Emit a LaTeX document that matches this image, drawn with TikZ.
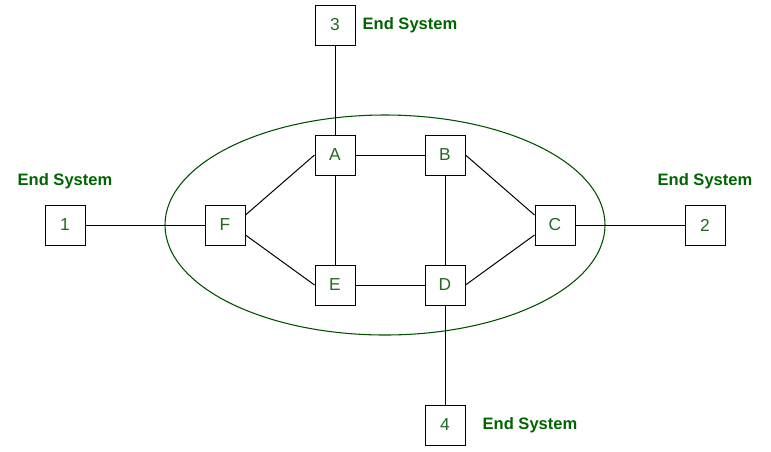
\documentclass[tikz,border=0pt]{standalone}
\usepackage{fontspec}
\setmainfont{Liberation Sans}
\definecolor{lblgreen}{RGB}{0,100,0}
\definecolor{nodegreen}{RGB}{35,105,35}
\definecolor{ellgreen}{RGB}{0,80,0}
\begin{document}
\begin{tikzpicture}[x=0.75pt,y=-0.75pt,
  box/.style={draw=black,line width=0.75pt,minimum width=30pt,minimum height=30pt,inner sep=0pt,
    text=nodegreen,font=\fontsize{13}{15}\selectfont},
  lbl/.style={text=lblgreen,font=\fontsize{12.4}{14}\selectfont\bfseries,inner sep=0pt},
  link/.style={draw=black,line width=0.75pt}]
\useasboundingbox (0,0) rectangle (771,451);
\fill[white] (0,0) rectangle (771,451);
\draw[draw=ellgreen,line width=0.8pt] (385,225) ellipse [x radius=220, y radius=110];
\node[box] (n1) at (65,225) {1};
\node[box] (n2) at (705,225) {2};
\node[box] (n3) at (335,25) {3};
\node[box] (n4) at (445,425) {4};
\node[box] (A) at (335,155) {A};
\node[box] (B) at (445,155) {B};
\node[box] (C) at (555,225) {C};
\node[box] (D) at (445,285) {D};
\node[box] (E) at (335,285) {E};
\node[box] (F) at (225,225) {F};
\node[lbl] (l1) at (65,181) {End System};
\node[lbl] (l2) at (705,181) {End System};
\node[lbl] (l3) at (410,25) {End System};
\node[lbl] (l4) at (530,425) {End System};
\draw[link] (n1.east) -- (F.west);
\draw[link] (C.east) -- (n2.west);
\draw[link] (n3.south) -- (A.north);
\draw[link] (D.south) -- (n4.north);
\draw[link] (A.east) -- (B.west);
\draw[link] (E.east) -- (D.west);
\draw[link] (A.south) -- (E.north);
\draw[link] (B.south) -- (D.north);
\draw[link] ([yshift=7.5pt]F.east) -- (A.west);
\draw[link] ([yshift=-7.5pt]F.east) -- (E.west);
\draw[link] (B.east) -- ([yshift=7.5pt]C.west);
\draw[link] (D.east) -- ([yshift=-7.5pt]C.west);
\end{tikzpicture}
\end{document}
